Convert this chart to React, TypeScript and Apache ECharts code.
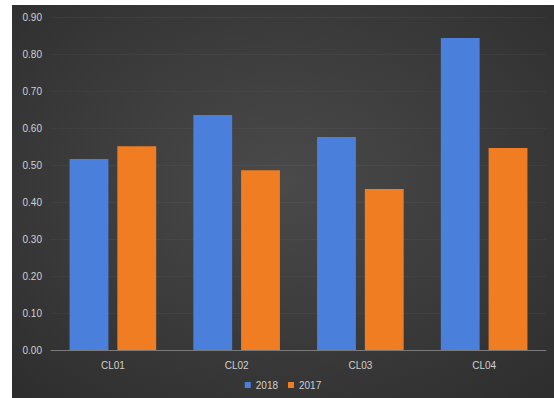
import React, { useEffect, useRef } from "react";
import * as echarts from "echarts";

const categories = ["CL01", "CL02", "CL03", "CL04"];
const series2018 = [0.516, 0.635, 0.576, 0.843];
const series2017 = [0.551, 0.486, 0.435, 0.546];
const seriesNames = ["2018", "2017"];

export default function App() {
  const ref = useRef<HTMLDivElement>(null);
  useEffect(() => {
    if (!ref.current) return;
    const chart = echarts.init(ref.current, undefined, { renderer: "svg" });
    chart.setOption({
      animation: false,
      backgroundColor: {
        type: "radial",
        x: 0.5,
        y: 0.45,
        r: 0.75,
        colorStops: [
          { offset: 0, color: "#4a4a4a" },
          { offset: 1, color: "#2d2d2d" },
        ],
      },
      grid: { left: 39, right: 8, top: 12, bottom: 48 },
      legend: {
        bottom: 3,
        left: "center",
        itemWidth: 6,
        itemHeight: 6,
        itemGap: 10,
        icon: "rect",
        textStyle: { color: "#d0d0d0", fontSize: 10, fontFamily: "Liberation Sans" },
        data: seriesNames,
      },
      xAxis: {
        type: "category",
        data: categories,
        axisTick: { show: false },
        axisLine: { lineStyle: { color: "#7a7a7a", width: 1 } },
        axisLabel: { color: "#d0d0d0", fontSize: 10, margin: 10, fontFamily: "Liberation Sans" },
      },
      yAxis: {
        type: "value",
        min: 0,
        max: 0.9,
        interval: 0.1,
        axisLine: { show: false },
        axisTick: { show: false },
        splitLine: { show: true, lineStyle: { color: "rgba(255,255,255,0.04)" } },
        axisLabel: {
          color: "#d0d0d0",
          fontSize: 10,
          margin: 9,
          fontFamily: "Liberation Sans",
          formatter: (v: number) => v.toFixed(2),
        },
      },
      series: [
        {
          name: seriesNames[0],
          type: "bar",
          data: series2018,
          barGap: "23%",
          barCategoryGap: "30%",
          itemStyle: { color: "#4a7fdc" },
        },
        {
          name: seriesNames[1],
          type: "bar",
          data: series2017,
          itemStyle: { color: "#f07d22" },
        },
      ],
    });
    return () => chart.dispose();
  }, []);
  return (
    <div style={{ position: "fixed", left: 0, top: 0, width: 554, height: 398, background: "#fff" }}>
      <div
        ref={ref}
        style={{ position: "absolute", left: 12, top: 5, width: 542, height: 393 }}
      />
    </div>
  );
}
